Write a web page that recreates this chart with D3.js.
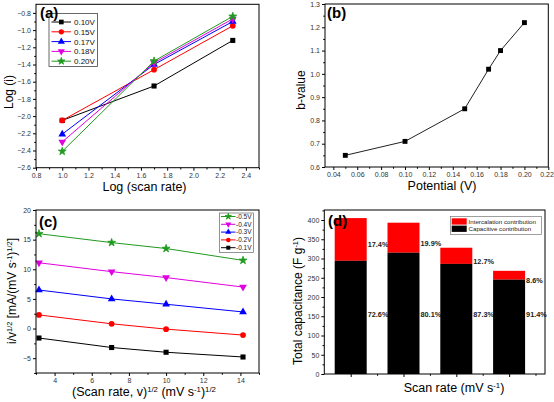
<!DOCTYPE html>
<html><head><meta charset="utf-8">
<script src="https://cdn.jsdelivr.net/npm/d3@7"></script>
<style>
body{margin:0;background:#fff}
svg{display:block}
text{font-family:"Liberation Sans",Arial,sans-serif}
</style>
</head><body>
<svg id="chart" width="554" height="402"></svg>
<script>
// ---------- Panel (a) data ----------
const aX = [1.0, 1.7, 2.3];
const aSeries = ["0.10V", "0.15V", "0.17V", "0.18V", "0.20V"];
const aV010 = [-2.05, -1.65, -1.12];
const aV015 = [-2.05, -1.46, -0.95];
const aV017 = [-2.21, -1.40, -0.90];
const aV018 = [-2.30, -1.38, -0.87];
const aV020 = [-2.41, -1.36, -0.84];
const aXTicks = [0.8, 1.0, 1.2, 1.4, 1.6, 1.8, 2.0, 2.2, 2.4];
const aYTicks = [-2.6, -2.4, -2.2, -2.0, -1.8, -1.6, -1.4, -1.2, -1.0, -0.8];

// ---------- Panel (b) data ----------
const bPotential = [0.05, 0.10, 0.15, 0.17, 0.18, 0.20];
const bValue = [0.65, 0.71, 0.85, 1.02, 1.10, 1.22];
const bXTicks = [0.04, 0.06, 0.08, 0.10, 0.12, 0.14, 0.16, 0.18, 0.20, 0.22];
const bYTicks = [0.6, 0.7, 0.8, 0.9, 1.0, 1.1, 1.2, 1.3];

// ---------- Panel (c) data ----------
const cX = [3.16, 7.07, 10.0, 14.14];
const cSeries = ["-0.5V", "-0.4V", "-0.3V", "-0.2V", "-0.1V"];
const cV05 = [16.0, 14.5, 13.5, 11.5];
const cV04 = [11.1, 9.6, 8.6, 7.0];
const cV03 = [6.5, 5.0, 4.1, 2.8];
const cV02 = [2.3, 0.8, -0.1, -1.1];
const cV01 = [-1.6, -3.2, -4.0, -4.8];
const cXTicks = [4, 6, 8, 10, 12, 14];
const cYTicks = [-5, 0, 5, 10, 15, 20];

// ---------- Panel (d) data ----------
const dCategories = ["10", "50", "100", "200"];
const dTotal = [405, 393, 328, 268];
const dCapacitive = [294, 315, 286, 245];
const dCapPct = ["72.6%", "80.1%", "87.3%", "91.4%"];
const dIntPct = ["17.4%", "19.9%", "12.7%", "8.6%"];
const dYTicks = [0, 50, 100, 150, 200, 250, 300, 350, 400];
const dLegend = ["Intercalation contribution", "Capacitive contribution"];

const svg = d3.select("#chart");
const TICKFONT = 7;
const tickCol = "#333";

function symbolFor(name) {
  const m = {
    square: d3.symbolSquare, circle: d3.symbolCircle, up: d3.symbolTriangle,
    down: d3.symbolTriangle, star: d3.symbolStar
  };
  return m[name];
}
function drawMarker(g, type, x, y, color, size) {
  const s = type === "star" ? size * 0.75 : size;
  const p = d3.symbol().type(symbolFor(type)).size(s)();
  g.append("path").attr("d", p)
    .attr("transform", `translate(${x},${y})` + (type === "down" ? " rotate(180)" : ""))
    .attr("fill", color).attr("stroke", type === "star" ? color : "none").attr("stroke-width", 0.8)
    .attr("stroke-linejoin", "round");
}

function frame(g, x, y) {
  const [x0, x1] = x.range(), [y0, y1] = y.range();
  g.append("rect").attr("x", x0).attr("y", y1).attr("width", x1 - x0).attr("height", y0 - y1)
    .attr("fill", "none").attr("stroke", "#000").attr("stroke-width", 1);
}

function axes(g, x, y, xt, yt, xMinor, yMinor, fx, fy, showX = true) {
  const [y0] = y.range(), [x0] = x.range();
  g.append("g").attr("class", "xaxis").attr("transform", `translate(0,${y0})`)
    .call(d3.axisBottom(x).tickValues(xt).tickSizeOuter(0).tickSize(3).tickPadding(2)
      .tickFormat(showX ? fx : ""));
  g.append("g").attr("transform", `translate(0,${y0})`)
    .call(d3.axisBottom(x).tickValues(xMinor).tickSizeOuter(0).tickSize(1.8).tickFormat(""));
  g.append("g").attr("transform", `translate(${x0},0)`)
    .call(d3.axisLeft(y).tickValues(yt).tickSizeOuter(0).tickSize(3).tickPadding(2).tickFormat(fy));
  g.append("g").attr("transform", `translate(${x0},0)`)
    .call(d3.axisLeft(y).tickValues(yMinor).tickSizeOuter(0).tickSize(1.8).tickFormat(""));
  g.selectAll(".domain").attr("stroke", "none");
  g.selectAll(".tick line").attr("stroke", "#000");
  g.selectAll(".tick text").attr("font-size", TICKFONT).attr("fill", tickCol)
    .attr("font-family", "'Liberation Sans',Arial,sans-serif");
}

function rich(sel, parts) {
  parts.forEach(([s, sup]) => {
    const t = sel.append("tspan").text(s);
    if (sup) t.attr("font-size", "0.62em").attr("baseline-shift", "super");
  });
}

function mids(a) { const r = []; for (let i = 0; i < a.length - 1; i++) r.push((a[i] + a[i + 1]) / 2); return r; }

// ================= Panel (a) =================
(function () {
  const g = svg.append("g");
  const x = d3.scaleLinear().domain([0.8, 2.5]).range([36, 259]);
  const y = d3.scaleLinear().domain([-2.6, -0.7]).range([167.7, 4.3]);
  axes(g, x, y, aXTicks, aYTicks, mids(aXTicks).concat([2.5]), mids(aYTicks),
    d3.format(".1f"), d3.format(".1f"));
  const colors = ["#000000", "#ff0000", "#0000ff", "#e000e0", "#1f9a1f"];
  const marks = ["square", "circle", "up", "down", "star"];
  const vals = [aV010, aV015, aV017, aV018, aV020];
  vals.forEach((v, i) => {
    const pts = aX.map((xx, j) => [x(xx), y(v[j])]);
    g.append("path").attr("d", d3.line()(pts)).attr("fill", "none")
      .attr("stroke", colors[i]).attr("stroke-width", 1);
    pts.forEach(p => drawMarker(g, marks[i], p[0], p[1], colors[i], 26));
  });
  frame(g, x, y);
  const lg = g.append("g");
  lg.append("rect").attr("x", 49).attr("y", 13.5).attr("width", 48.5).attr("height", 53)
    .attr("fill", "#fff").attr("stroke", "#444").attr("stroke-width", 0.8);
  aSeries.forEach((s, i) => {
    const yy = 22 + i * 9.8;
    lg.append("line").attr("x1", 51.5).attr("x2", 71).attr("y1", yy).attr("y2", yy)
      .attr("stroke", colors[i]).attr("stroke-width", 1);
    drawMarker(lg, marks[i], 61.3, yy, colors[i], 22);
    lg.append("text").attr("x", 74).attr("y", yy + 3).attr("font-size", 8).attr("fill", "#111").text(s);
  });
  g.append("text").attr("x", 40).attr("y", 18).attr("font-size", 15).attr("font-weight", "bold").text("(a)");
  g.append("text").attr("transform", "translate(13,92) rotate(-90)").attr("text-anchor", "middle")
    .attr("font-size", 12).text("Log (i)");
  g.append("text").attr("x", 144.5).attr("y", 191).attr("text-anchor", "middle")
    .attr("font-size", 12.5).attr("font-family", "Lato, 'Open Sans', sans-serif").text("Log (scan rate)");
})();

// ================= Panel (b) =================
(function () {
  const g = svg.append("g");
  const x = d3.scaleLinear().domain([0.033, 0.22]).range([325, 548.3]);
  const y = d3.scaleLinear().domain([0.6, 1.3]).range([167, 4]);
  axes(g, x, y, bXTicks, bYTicks, mids(bXTicks), mids(bYTicks),
    d3.format(".2f"), d3.format(".1f"));
  // keep the last x tick label inside the window
  g.selectAll(".xaxis .tick").filter(d => d === bXTicks[bXTicks.length - 1])
    .select("text").attr("text-anchor", "end").attr("dx", 5);
  const pts = bPotential.map((p, i) => [x(p), y(bValue[i])]);
  g.append("path").attr("d", d3.line()(pts)).attr("fill", "none").attr("stroke", "#222").attr("stroke-width", 1);
  pts.forEach(p => drawMarker(g, "square", p[0], p[1], "#000", 24));
  frame(g, x, y);
  g.append("text").attr("x", 327).attr("y", 18).attr("font-size", 15).attr("font-weight", "bold").text("(b)");
  g.append("text").attr("transform", "translate(305,90) rotate(-90)").attr("text-anchor", "middle")
    .attr("font-size", 12).text("b-value");
  g.append("text").attr("x", 442).attr("y", 190).attr("text-anchor", "middle")
    .attr("font-size", 12.5).attr("font-family", "Lato, 'Open Sans', sans-serif").text("Potential (V)");
})();

// ================= Panel (c) =================
(function () {
  const g = svg.append("g");
  const x = d3.scaleLinear().domain([3, 15]).range([36, 259]);
  const y = d3.scaleLinear().domain([-7.5, 20]).range([373, 210]);
  axes(g, x, y, cXTicks, cYTicks, [3, 5, 7, 9, 11, 13, 15], mids(cYTicks).concat([-7.5]),
    d3.format("d"), d3.format("d"));
  const colors = ["#1f9a1f", "#e000e0", "#0000ff", "#ff0000", "#000000"];
  const marks = ["star", "down", "up", "circle", "square"];
  const vals = [cV05, cV04, cV03, cV02, cV01];
  vals.forEach((v, i) => {
    const pts = cX.map((xx, j) => [x(xx), y(v[j])]);
    g.append("path").attr("d", d3.line()(pts)).attr("fill", "none")
      .attr("stroke", colors[i]).attr("stroke-width", 1);
    pts.forEach(p => drawMarker(g, marks[i], p[0], p[1], colors[i], 26));
  });
  frame(g, x, y);
  const lg = g.append("g");
  lg.append("rect").attr("x", 219.5).attr("y", 213).attr("width", 34).attr("height", 39.5)
    .attr("fill", "#fff").attr("stroke", "#666").attr("stroke-width", 0.7);
  cSeries.forEach((s, i) => {
    const yy = 216.5 + i * 7.8;
    lg.append("line").attr("x1", 221).attr("x2", 235.5).attr("y1", yy).attr("y2", yy)
      .attr("stroke", colors[i]).attr("stroke-width", 1);
    drawMarker(lg, marks[i], 228.3, yy, colors[i], 16);
    lg.append("text").attr("x", 236).attr("y", yy + 2.3).attr("font-size", 6.5).attr("fill", "#222").text(s);
  });
  g.append("text").attr("x", 39).attr("y", 227).attr("font-size", 15).attr("font-weight", "bold").text("(c)");
  const yl = g.append("text").attr("transform", "translate(16,291) rotate(-90)").attr("text-anchor", "middle")
    .attr("font-size", 12);
  rich(yl, [["i/v"], ["1/2", 1], ["  [mA/(mV s"], ["-1", 1], [")"], ["1/2", 1], ["]"]]);
  const xl = g.append("text").attr("x", 144).attr("y", 396).attr("text-anchor", "middle")
    .attr("font-size", 12.5).attr("font-family", "Lato, 'Open Sans', sans-serif");
  rich(xl, [["(Scan rate, v)"], ["1/2", 1], [" (mV s"], ["-1", 1], [")"], ["1/2", 1]]);
})();

// ================= Panel (d) =================
(function () {
  const g = svg.append("g");
  const xi = d3.scaleLinear().domain([0.5, 4.68]).range([324.3, 545]);
  const y = d3.scaleLinear().domain([0, 426]).range([374, 210]);
  const idx = dCategories.map((c, i) => i + 1);
  axes(g, xi, y, idx, dYTicks, [1.5, 2.5, 3.5, 4.5], mids(dYTicks).concat([425]),
    d3.format("d"), d3.format("d"), false);
  const bw = 32;
  idx.forEach((k, i) => {
    const cx = xi(k);
    g.append("rect").attr("x", cx - bw / 2).attr("width", bw)
      .attr("y", y(dTotal[i])).attr("height", y(dCapacitive[i]) - y(dTotal[i])).attr("fill", "#ff0000");
    g.append("rect").attr("x", cx - bw / 2).attr("width", bw)
      .attr("y", y(dCapacitive[i])).attr("height", y(0) - y(dCapacitive[i])).attr("fill", "#000");
    g.append("text").attr("x", cx + bw / 2 + 1).attr("y", y((dTotal[i] + dCapacitive[i]) / 2) + 8)
      .attr("font-size", 7.3).attr("font-weight", "bold").attr("fill", "#222").text(dIntPct[i]);
    g.append("text").attr("x", cx + bw / 2 + 1).attr("y", y(155) + 2.5)
      .attr("font-size", 7.3).attr("font-weight", "bold").attr("fill", "#222").text(dCapPct[i]);
  });
  frame(g, xi, y);
  const lg = g.append("g");
  lg.append("rect").attr("x", 450.5).attr("y", 216.5).attr("width", 91).attr("height", 18)
    .attr("fill", "#fff").attr("stroke", "#777").attr("stroke-width", 0.7);
  const lc = ["#ff0000", "#000"];
  dLegend.forEach((s, i) => {
    const yy = 218.3 + i * 7.3;
    lg.append("rect").attr("x", 451.7).attr("y", yy).attr("width", 15).attr("height", 6.3).attr("fill", lc[i]);
    lg.append("text").attr("x", 468.5).attr("y", yy + 5.2).attr("font-size", 6.2).attr("fill", "#222").text(s);
  });
  g.append("text").attr("x", 328).attr("y", 226).attr("font-size", 15).attr("font-weight", "bold").text("(d)");
  const yl = g.append("text").attr("transform", "translate(302,301) rotate(-90)").attr("text-anchor", "middle")
    .attr("font-size", 12);
  rich(yl, [["Total capacitance (F g"], ["-1", 1], [")"]]);
  const xl = g.append("text").attr("x", 454).attr("y", 392).attr("text-anchor", "middle")
    .attr("font-size", 12.5).attr("font-family", "Lato, 'Open Sans', sans-serif");
  rich(xl, [["Scan rate (mV s"], ["-1", 1], [")"]]);
})();
</script>
</body></html>
